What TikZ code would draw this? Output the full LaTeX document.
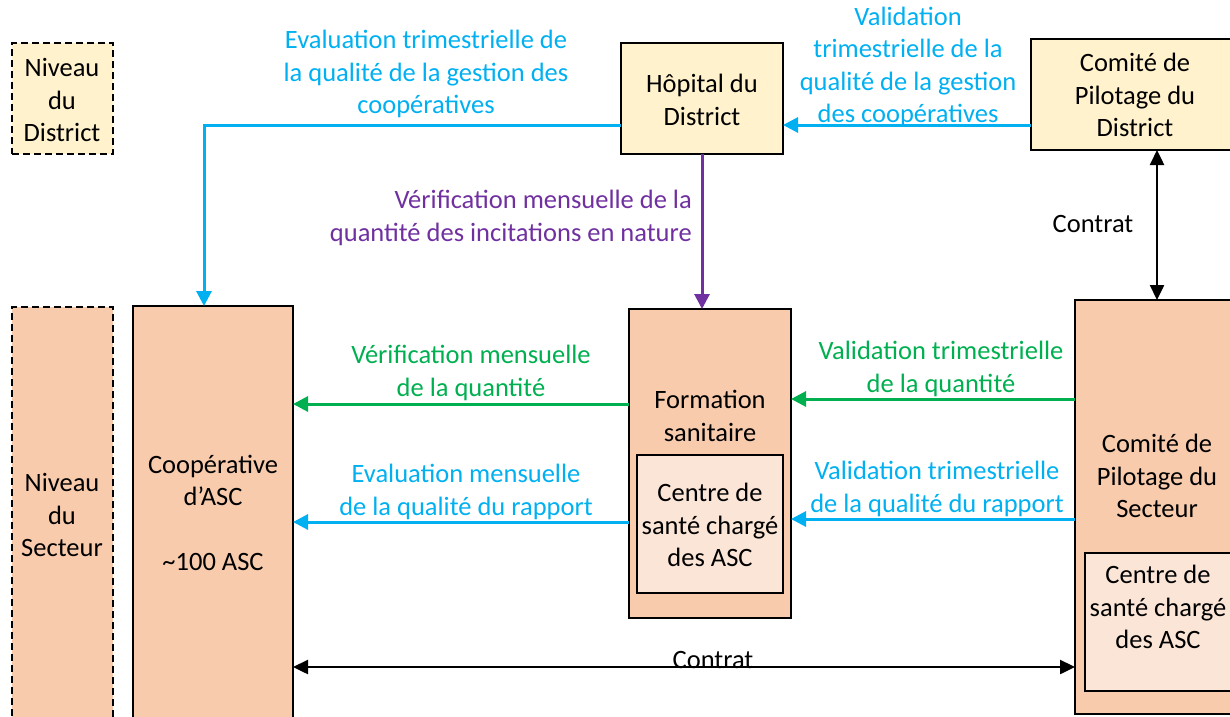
\documentclass[tikz,border=0pt]{standalone}
\usepackage{fontspec}
\setmainfont{Carlito}
\usetikzlibrary{arrows.meta}
\definecolor{cyanb}{HTML}{00B0F0}
\definecolor{greenb}{HTML}{00B050}
\definecolor{purp}{HTML}{7030A0}
\definecolor{yel}{HTML}{FFF2CC}
\definecolor{peach}{HTML}{F8CBAD}
\definecolor{lpeach}{HTML}{FBE5D6}
\begin{document}
\begin{tikzpicture}[x=1pt,y=-1pt,
  box/.style={draw=black, line width=2.4pt, inner sep=0pt, outer sep=0pt, anchor=north west},
  lvl/.style={box, dash pattern=on 7pt off 4pt},
  txt/.style={align=center, font=\fontsize{26.5}{32.3}\selectfont, inner sep=0pt},
  arr/.style={line width=3pt, -{Triangle[length=15pt,width=15pt]}},
  dbl/.style={line width=2.4pt, {Triangle[length=15pt,width=14pt]}-{Triangle[length=15pt,width=14pt]}}
]
\useasboundingbox (0,0) rectangle (1230,716);
% boxes
\node[lvl, fill=yel, minimum width=101pt, minimum height=111pt] (nd) at (12,43) {};
\node[box, fill=yel, minimum width=162pt, minimum height=111pt] (hop) at (621,43) {};
\node[box, fill=yel, minimum width=208pt, minimum height=111pt] (cpd) at (1031,39) {};
\node[lvl, fill=peach, minimum width=101pt, minimum height=430pt] (ns) at (12,307) {};
\node[box, fill=peach, minimum width=160pt, minimum height=420pt] (coop) at (133,306) {};
\node[box, fill=peach, minimum width=162pt, minimum height=309pt] (form) at (629,309) {};
\node[box, fill=lpeach, minimum width=146pt, minimum height=138pt] (fcs) at (637,455) {};
\node[box, fill=peach, minimum width=164pt, minimum height=414pt] (cps) at (1075,300) {};
\node[box, fill=lpeach, minimum width=146pt, minimum height=138pt] (scs) at (1085,553) {};
% box texts
\node[txt] (tnd) at (62,100) {Niveau\\du\\District};
\node[txt] (thop) at (702,100) {Hôpital du\\District};
\node[txt] (tcpd) at (1135,95) {Comité de\\Pilotage du\\District};
\node[txt] (tns) at (62,515) {Niveau\\du\\Secteur};
\node[txt] (tcoop) at (213,513) {Coopérative\\d’ASC\\\mbox{}\\\textasciitilde100 ASC};
\node[txt] (tform) at (710,416) {Formation\\sanitaire};
\node[txt] (tfcs) at (710,525) {Centre de\\santé chargé\\des ASC};
\node[txt] (tcps) at (1157,476) {Comité de\\Pilotage du\\Secteur};
\node[txt] (tscs) at (1158,607) {Centre de\\santé chargé\\des ASC};
% connector levels
\coordinate (g1) at ([yshift=59.5pt]form.west);
\coordinate (g2) at ([yshift=108pt]cps.west);
\coordinate (b1) at ([yshift=-58.5pt]form.west);
\coordinate (b2) at ([yshift=-12pt]cps.west);
\coordinate (k1) at ([yshift=-160pt]cps.west);
\coordinate (t1) at ([yshift=-26.5pt]hop.west);
\coordinate (t2) at ([yshift=-30.5pt]cpd.west);
\coordinate (v1) at ([xshift=22pt]cpd.south);
% connectors
\draw[arr, cyanb] (t1) -| ([xshift=-9pt]coop.north);
\draw[arr, cyanb] (t2) -- (t2 -| hop.east);
\draw[arr, purp] (hop.south) -- (hop.south |- form.north);
\draw[dbl, black] (v1) -- (v1 |- cps.north);
\draw[arr, greenb] (g1) -- (g1 -| coop.east);
\draw[arr, greenb] (g2) -- (g2 -| form.east);
\draw[arr, cyanb] (b1) -- (b1 -| coop.east);
\draw[arr, cyanb] (b2) -- (b2 -| form.east);
\draw[dbl, black] (k1 -| coop.east) -- (k1);
% labels
\node[txt, cyanb] (l1) at (426,74) {Evaluation trimestrielle de\\la qualité de la gestion des\\coopératives};
\node[txt, cyanb] (l2) at (908,67) {Validation\\trimestrielle de la\\qualité de la gestion\\des coopératives};
\node[txt, purp, align=right, anchor=east] (l3) at (692,218) {Vérification mensuelle de la\\quantité des incitations en nature};
\node[txt] (l4) at (1093,224) {Contrat};
\node[txt, greenb] (l5) at (471,373) {Vérification mensuelle\\de la quantité};
\node[txt, greenb] (l6) at (941,369) {Validation trimestrielle\\de la quantité};
\node[txt, cyanb] (l7) at (466,492) {Evaluation mensuelle\\de la qualité du rapport};
\node[txt, cyanb] (l8) at (937,489) {Validation trimestrielle\\de la qualité du rapport};
\node[txt] (l9) at (713,660) {Contrat};
\end{tikzpicture}
\end{document}
